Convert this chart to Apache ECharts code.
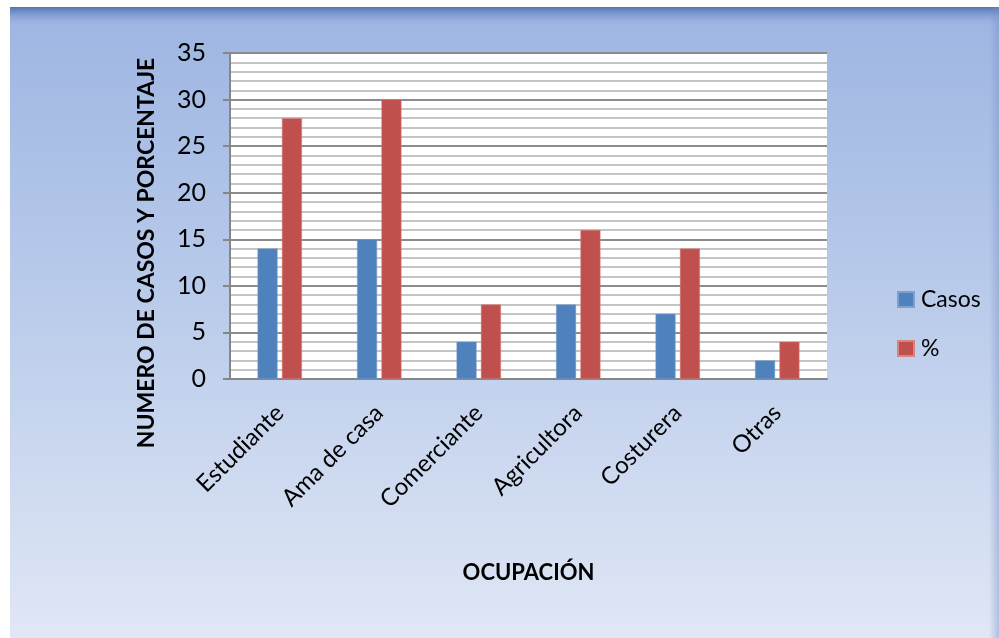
<!DOCTYPE html>
<html><head><meta charset="utf-8">
<script src="https://cdn.jsdelivr.net/npm/echarts@6/dist/echarts.min.js"></script>
<style>html,body{margin:0;padding:0;background:#fff}#c{width:999px;height:638px}</style>
</head><body><div id="c"></div>
<script>
const categories = ['Estudiante','Ama de casa','Comerciante','Agricultora','Costurera','Otras'];
const casos = [14, 15, 4, 8, 7, 2];
const porcentaje = [28, 30, 8, 16, 14, 4];
const yTicks = [0, 5, 10, 15, 20, 25, 30, 35];

const chart = echarts.init(document.getElementById('c'), null, {renderer:'canvas'});
const font = 'Lato, "Open Sans", sans-serif';
chart.setOption({
  animation:false,
  backgroundColor:'#ffffff',
  graphic:[
    {type:'rect', z:-10, shape:{x:10,y:7,width:989,height:631},
     style:{fill:new echarts.graphic.LinearGradient(0,0,0,1,[
       {offset:0,color:'#9db5e2'},{offset:0.5,color:'#bccdeb'},{offset:1,color:'#e0e7f5'}])}},
    {type:'rect', z:-9, shape:{x:10,y:7,width:989,height:20},
     style:{fill:new echarts.graphic.LinearGradient(0,0,0,1,[
       {offset:0,color:'#5473b2'},{offset:1,color:'rgba(157,181,226,0)'}])}},
    {type:'rect', z:-9, shape:{x:989,y:7,width:10,height:631},
     style:{fill:new echarts.graphic.LinearGradient(0,0,1,0,[
       {offset:0,color:'rgba(120,145,200,0)'},{offset:1,color:'rgba(120,145,200,0.45)'}])}},
    {type:'rect', z:-5, shape:{x:230,y:53,width:597,height:326}, style:{fill:'#ffffff'}}
  ],
  grid:{left:230, top:53, width:597, height:326, containLabel:false, outerBoundsMode:'none'},
  legend:{
    orient:'vertical', left:897, top:288, padding:0, itemWidth:16, itemHeight:15, itemGap:26,
    icon:'rect',
    textStyle:{fontFamily:font, fontSize:23, color:'#000', padding:[0,0,0,2]},
    data:['Casos','%']
  },
  xAxis:{
    type:'category', data:categories,
    name:'OCUPACIÓN', nameLocation:'middle', nameGap:183,
    nameTextStyle:{fontFamily:font, fontSize:22, fontWeight:'bold', color:'#000'},
    axisLine:{show:true, lineStyle:{color:'#868686', width:2}},
    axisTick:{show:false},
    axisLabel:{rotate:45, fontFamily:font, fontSize:24, color:'#000', margin:30, interval:0}
  },
  yAxis:{
    type:'value', min:0, max:35, interval:5,
    name:'NUMERO DE CASOS Y PORCENTAJE', nameLocation:'middle', nameGap:72, nameRotate:90,
    nameTextStyle:{fontFamily:font, fontSize:23, fontWeight:'bold', color:'#000', padding:[0,74,0,0]},
    axisLine:{show:true, lineStyle:{color:'#868686', width:2}},
    axisTick:{show:true, length:7, lineStyle:{color:'#868686', width:2}},
    axisLabel:{fontFamily:font, fontSize:25, color:'#000', margin:24,
      formatter:v=>yTicks.includes(v)?String(v):''},
    splitLine:{show:true, lineStyle:{color:'#8c8c8c', width:2}},
    minorTick:{show:false, splitNumber:5},
    minorSplitLine:{show:true, lineStyle:{color:'#c4c4c4', width:2}}
  },
  series:[
    {name:'Casos', type:'bar', data:casos, barWidth:20, barGap:'22%',
     itemStyle:{color:'#4f81bd', borderColor:'#7da0cf', borderWidth:0.5}},
    {name:'%', type:'bar', data:porcentaje, barWidth:20,
     itemStyle:{color:'#c0504d', borderColor:'#d9827f', borderWidth:0.5}}
  ]
});
</script></body></html>
